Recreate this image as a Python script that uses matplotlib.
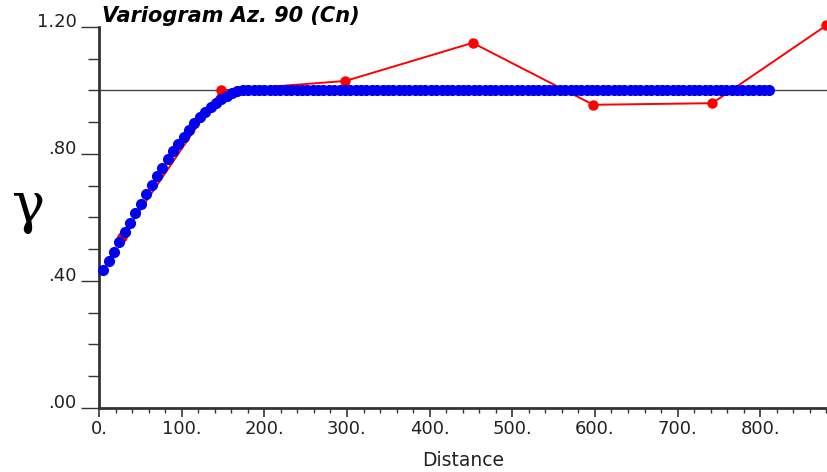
import matplotlib
matplotlib.use("Agg")
import matplotlib.pyplot as plt
from matplotlib.ticker import MultipleLocator, FixedLocator

# Experimental variogram (red)
exp_dist = [28, 148, 298, 452, 598, 742, 880]
exp_gamma = [0.54, 1.00, 1.03, 1.15, 0.955, 0.96, 1.205]

# Model variogram (blue dots): rising part then sill
model_dist_rise = [5, 11.5, 18, 24.5, 31, 37.5, 44, 50.5, 57, 63.5, 70, 76.5, 83,
                   89.5, 96, 102.5, 109, 115.5, 122, 128.5, 135, 141.5, 148,
                   154.5, 161, 167.5, 174]
model_gamma_rise = [0.435, 0.462, 0.492, 0.522, 0.553, 0.584, 0.614, 0.644, 0.673,
                    0.702, 0.730, 0.757, 0.783, 0.808, 0.832, 0.855, 0.877, 0.897,
                    0.916, 0.933, 0.948, 0.962, 0.974, 0.984, 0.991, 0.997, 1.000]
model_dist_flat_start = 180.5
model_dist_flat_end = 816
model_sill = 1.00

sill_line = 1.00

x_tick_values = [0, 100, 200, 300, 400, 500, 600, 700, 800]
x_tick_labels = ["0.", "100.", "200.", "300.", "400.", "500.", "600.", "700.", "800."]
y_tick_values = [0.0, 0.4, 0.8, 1.2]
y_tick_labels = [".00", ".40", ".80", "1.20"]

title = "Variogram Az. 90 (Cn)"
xlabel = "Distance"
ylabel = "\u03b3"

# flat portion positions (regular lag spacing of the model dots)
flat_dist = []
d = model_dist_flat_start
while d <= model_dist_flat_end + 1e-9:
    flat_dist.append(d)
    d += 6.5
flat_gamma = [model_sill for _ in flat_dist]

model_dist = model_dist_rise + flat_dist
model_gamma = model_gamma_rise + flat_gamma

plt.rcParams['font.family'] = ['DejaVu Sans']

fig = plt.figure(figsize=(8.28, 4.72), dpi=100)
ax = fig.add_axes([0.1196, 0.1356, 0.8804, 0.8072])
ax.set_xlim(0, 882)
ax.set_ylim(0, 1.2)

ax.axhline(sill_line, color="#444444", lw=1.0, zorder=1)
ax.plot(exp_dist, exp_gamma, color="#ff0000", lw=1.4, marker="o", ms=6.5,
        mec="#ff0000", mfc="#ff0000", zorder=2, clip_on=False)
ax.plot(model_dist, model_gamma, ls="none", marker="o", ms=7, color="#0000ee",
        mec="#0000ee", zorder=3, clip_on=False)

for s in ["top", "right"]:
    ax.spines[s].set_visible(False)
for s in ["left", "bottom"]:
    ax.spines[s].set_linewidth(2.0)
    ax.spines[s].set_color("#333333")

ax.xaxis.set_major_locator(FixedLocator(x_tick_values))
ax.set_xticklabels(x_tick_labels)
ax.xaxis.set_minor_locator(MultipleLocator(20))
ax.yaxis.set_major_locator(FixedLocator(y_tick_values))
ax.set_yticklabels(y_tick_labels)
ax.yaxis.set_minor_locator(MultipleLocator(0.1))

ax.tick_params(axis="x", which="major", length=6.5, width=1.2, color="#333333",
               labelsize=13, pad=2, direction="out", labelcolor="#222222")
ax.tick_params(axis="x", which="minor", length=3.6, width=1.0, color="#333333",
               direction="out")
ax.tick_params(axis="y", which="major", length=13, width=1.0, color="#333333",
               labelsize=13, pad=3, direction="out", labelcolor="#222222")
ax.tick_params(axis="y", which="minor", length=8, width=1.0, color="#333333",
               direction="out")
for lab in ax.get_yticklabels():
    lab.set_va("baseline")

fig.text(102 / 828, 1 - 22 / 472, title, fontsize=15, fontweight="bold",
         fontstyle="italic", ha="left", va="baseline")
fig.text(463 / 828, 1 - 466 / 472, xlabel, fontsize=13.5, ha="center", va="baseline",
         color="#222222")
fig.text(29 / 828, 1 - 207 / 472, ylabel, fontsize=40, ha="center", va="center",
         family=["DejaVu Serif"])

fig.savefig("out.png", dpi=100)
